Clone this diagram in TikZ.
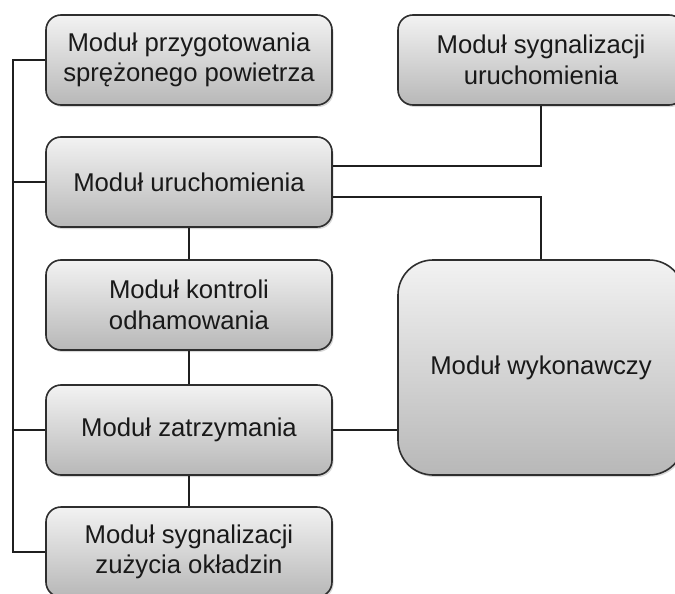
\documentclass[tikz,border=0pt]{standalone}
\usepackage{fontspec}
\setmainfont{Liberation Sans}
\usetikzlibrary{shadows,calc}
\begin{document}
\begin{tikzpicture}[x=1pt,y=-1pt,
  box/.style={draw=black!82, line width=1.6pt, rounded corners=15pt,
    top color=black!5, bottom color=black!28,
    minimum width=286pt, minimum height=90pt, inner sep=0pt,
    align=center, font=\fontsize{25.7}{30.5}\selectfont, text=black!90,
    drop shadow={shadow xshift=1.5pt, shadow yshift=-2pt, opacity=0.25, fill=black!60}},
  link/.style={draw=black!88, line width=1.8pt}]
\useasboundingbox (0,0) rectangle (675,594);
\clip (0,0) rectangle (675,594);
\fill[white] (0,0) rectangle (675,594);
\node[box] (A) at (189,60) {Moduł przygotowania\\sprężonego powietrza};
\node[box] (B) at (189,182) {Moduł uruchomienia};
\node[box] (C) at (189,305) {Moduł kontroli\\odhamowania};
\node[box] (D) at (189,430) {Moduł zatrzymania};
\node[box] (E) at (189,552) {Moduł sygnalizacji\\zużycia okładzin};
\node[box] (F) at (541,60) {Moduł sygnalizacji\\uruchomienia};
\node[box, minimum height=215pt, rounded corners=35pt] (G) at (541,367.5) {Moduł wykonawczy};
\coordinate (bus) at (13,0);
\coordinate (r1) at ($(B.east)+(0,-16)$);
\coordinate (r2) at ($(B.east)+(0,15)$);
\draw[link] (A.west) -- (A.west -| bus) -- (E.west -| bus) -- (E.west);
\draw[link] (B.west -| bus) -- (B.west);
\draw[link] (D.west -| bus) -- (D.west);
\draw[link] (B.south) -- (C.north);
\draw[link] (C.south) -- (D.north);
\draw[link] (D.south) -- (E.north);
\draw[link] (D.east) -- (D.east -| G.west);
\draw[link] (F.south) |- (r1);
\draw[link] (r2) -| (G.north);
\end{tikzpicture}
\end{document}
